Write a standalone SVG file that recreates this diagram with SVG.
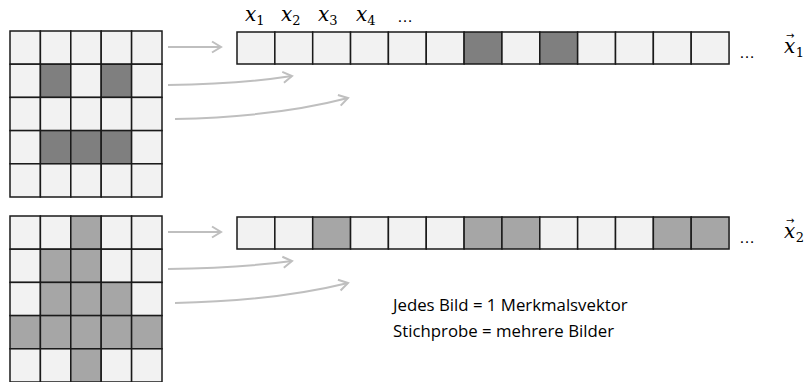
<svg xmlns="http://www.w3.org/2000/svg" width="809" height="382" viewBox="0 0 809 382">
<style>
.l{fill:#f2f2f2;stroke:#1a1a1a;stroke-width:1.5}
.d{fill:#7f7f7f;stroke:#1a1a1a;stroke-width:1.5}
.m{fill:#a6a6a6;stroke:#1a1a1a;stroke-width:1.5}
.a{fill:none;stroke:#bfbfbf;stroke-width:2}
.math{font-family:"DejaVu Serif","Liberation Serif",serif;font-style:italic;font-size:20px;fill:#000}
.sub{font-style:normal;font-size:13px}
.vec{font-family:"DejaVu Sans","Liberation Sans",sans-serif;font-style:normal;font-size:10px}
.dots{font-family:"Liberation Sans",sans-serif;font-size:16px;fill:#000}
.t{font-family:"Open Sans","Liberation Sans",sans-serif;font-size:16.8px;fill:#000}
</style>
<defs>
<marker id="ah" markerUnits="userSpaceOnUse" markerWidth="14" markerHeight="14" refX="11" refY="7" orient="auto">
<path d="M2,1.5 L11,7 L2,12.5" fill="none" stroke="#bfbfbf" stroke-width="2"/>
</marker>
</defs>
<g id="grid1">
<rect class="l" x="10" y="31" width="30.4" height="33.2"/><rect class="l" x="40.4" y="31" width="30.4" height="33.2"/><rect class="l" x="70.8" y="31" width="30.4" height="33.2"/><rect class="l" x="101.2" y="31" width="30.4" height="33.2"/><rect class="l" x="131.6" y="31" width="30.4" height="33.2"/>
<rect class="l" x="10" y="64.2" width="30.4" height="33.2"/><rect class="d" x="40.4" y="64.2" width="30.4" height="33.2"/><rect class="l" x="70.8" y="64.2" width="30.4" height="33.2"/><rect class="d" x="101.2" y="64.2" width="30.4" height="33.2"/><rect class="l" x="131.6" y="64.2" width="30.4" height="33.2"/>
<rect class="l" x="10" y="97.4" width="30.4" height="33.2"/><rect class="l" x="40.4" y="97.4" width="30.4" height="33.2"/><rect class="l" x="70.8" y="97.4" width="30.4" height="33.2"/><rect class="l" x="101.2" y="97.4" width="30.4" height="33.2"/><rect class="l" x="131.6" y="97.4" width="30.4" height="33.2"/>
<rect class="l" x="10" y="130.6" width="30.4" height="33.2"/><rect class="d" x="40.4" y="130.6" width="30.4" height="33.2"/><rect class="d" x="70.8" y="130.6" width="30.4" height="33.2"/><rect class="d" x="101.2" y="130.6" width="30.4" height="33.2"/><rect class="l" x="131.6" y="130.6" width="30.4" height="33.2"/>
<rect class="l" x="10" y="163.8" width="30.4" height="33.2"/><rect class="l" x="40.4" y="163.8" width="30.4" height="33.2"/><rect class="l" x="70.8" y="163.8" width="30.4" height="33.2"/><rect class="l" x="101.2" y="163.8" width="30.4" height="33.2"/><rect class="l" x="131.6" y="163.8" width="30.4" height="33.2"/>
</g>
<g id="grid2">
<rect class="l" x="10" y="216" width="30.4" height="33.2"/><rect class="l" x="40.4" y="216" width="30.4" height="33.2"/><rect class="m" x="70.8" y="216" width="30.4" height="33.2"/><rect class="l" x="101.2" y="216" width="30.4" height="33.2"/><rect class="l" x="131.6" y="216" width="30.4" height="33.2"/>
<rect class="l" x="10" y="249.2" width="30.4" height="33.2"/><rect class="m" x="40.4" y="249.2" width="30.4" height="33.2"/><rect class="m" x="70.8" y="249.2" width="30.4" height="33.2"/><rect class="l" x="101.2" y="249.2" width="30.4" height="33.2"/><rect class="l" x="131.6" y="249.2" width="30.4" height="33.2"/>
<rect class="l" x="10" y="282.4" width="30.4" height="33.2"/><rect class="m" x="40.4" y="282.4" width="30.4" height="33.2"/><rect class="m" x="70.8" y="282.4" width="30.4" height="33.2"/><rect class="m" x="101.2" y="282.4" width="30.4" height="33.2"/><rect class="l" x="131.6" y="282.4" width="30.4" height="33.2"/>
<rect class="m" x="10" y="315.6" width="30.4" height="33.2"/><rect class="m" x="40.4" y="315.6" width="30.4" height="33.2"/><rect class="m" x="70.8" y="315.6" width="30.4" height="33.2"/><rect class="m" x="101.2" y="315.6" width="30.4" height="33.2"/><rect class="m" x="131.6" y="315.6" width="30.4" height="33.2"/>
<rect class="l" x="10" y="348.8" width="30.4" height="33.2"/><rect class="l" x="40.4" y="348.8" width="30.4" height="33.2"/><rect class="m" x="70.8" y="348.8" width="30.4" height="33.2"/><rect class="l" x="101.2" y="348.8" width="30.4" height="33.2"/><rect class="l" x="131.6" y="348.8" width="30.4" height="33.2"/>
</g>
<g id="vec1">
<rect class="l" x="237" y="32" width="37.85" height="32"/><rect class="l" x="274.85" y="32" width="37.85" height="32"/><rect class="l" x="312.7" y="32" width="37.85" height="32"/><rect class="l" x="350.55" y="32" width="37.85" height="32"/><rect class="l" x="388.4" y="32" width="37.85" height="32"/><rect class="l" x="426.25" y="32" width="37.85" height="32"/><rect class="d" x="464.1" y="32" width="37.85" height="32"/><rect class="l" x="501.95" y="32" width="37.85" height="32"/><rect class="d" x="539.8" y="32" width="37.85" height="32"/><rect class="l" x="577.65" y="32" width="37.85" height="32"/><rect class="l" x="615.5" y="32" width="37.85" height="32"/><rect class="l" x="653.35" y="32" width="37.85" height="32"/><rect class="l" x="691.2" y="32" width="37.85" height="32"/>
<text class="dots" x="739" y="58">…</text>
<text class="math" x="784" y="53">x<tspan class="vec" dx="-9.3" dy="-14">→</tspan><tspan class="sub" dx="1.5" dy="18">1</tspan></text>
</g>
<g id="vec2">
<rect class="l" x="237" y="217" width="37.85" height="32"/><rect class="l" x="274.85" y="217" width="37.85" height="32"/><rect class="m" x="312.7" y="217" width="37.85" height="32"/><rect class="l" x="350.55" y="217" width="37.85" height="32"/><rect class="l" x="388.4" y="217" width="37.85" height="32"/><rect class="l" x="426.25" y="217" width="37.85" height="32"/><rect class="m" x="464.1" y="217" width="37.85" height="32"/><rect class="m" x="501.95" y="217" width="37.85" height="32"/><rect class="l" x="539.8" y="217" width="37.85" height="32"/><rect class="l" x="577.65" y="217" width="37.85" height="32"/><rect class="l" x="615.5" y="217" width="37.85" height="32"/><rect class="m" x="653.35" y="217" width="37.85" height="32"/><rect class="m" x="691.2" y="217" width="37.85" height="32"/>
<text class="dots" x="739" y="243">…</text>
<text class="math" x="784" y="238">x<tspan class="vec" dx="-9.3" dy="-14">→</tspan><tspan class="sub" dx="1.5" dy="18">2</tspan></text>
</g>
<g id="labels">
<text class="math" x="245" y="21">x<tspan class="sub" dy="4">1</tspan></text>
<text class="math" x="281" y="21">x<tspan class="sub" dy="4">2</tspan></text>
<text class="math" x="318" y="21">x<tspan class="sub" dy="4">3</tspan></text>
<text class="math" x="356" y="21">x<tspan class="sub" dy="4">4</tspan></text>
<text class="dots" x="397" y="22">…</text>
</g>
<g id="connectors">
<path class="a" marker-end="url(#ah)" d="M168,47 L221,47"/>
<path class="a" marker-end="url(#ah)" d="M168,85 Q240,84 292,76"/>
<path class="a" marker-end="url(#ah)" d="M175,119 Q275,117 348,98"/>
<path class="a" marker-end="url(#ah)" d="M168,232 L221,232"/>
<path class="a" marker-end="url(#ah)" d="M168,269 Q240,268 292,261"/>
<path class="a" marker-end="url(#ah)" d="M175,303 Q275,301 348,283"/>
</g>
<g id="note">
<text class="t" x="393" y="311">Jedes Bild = 1 Merkmalsvektor</text>
<text class="t" x="393" y="337">Stichprobe = mehrere Bilder</text>
</g>
</svg>
